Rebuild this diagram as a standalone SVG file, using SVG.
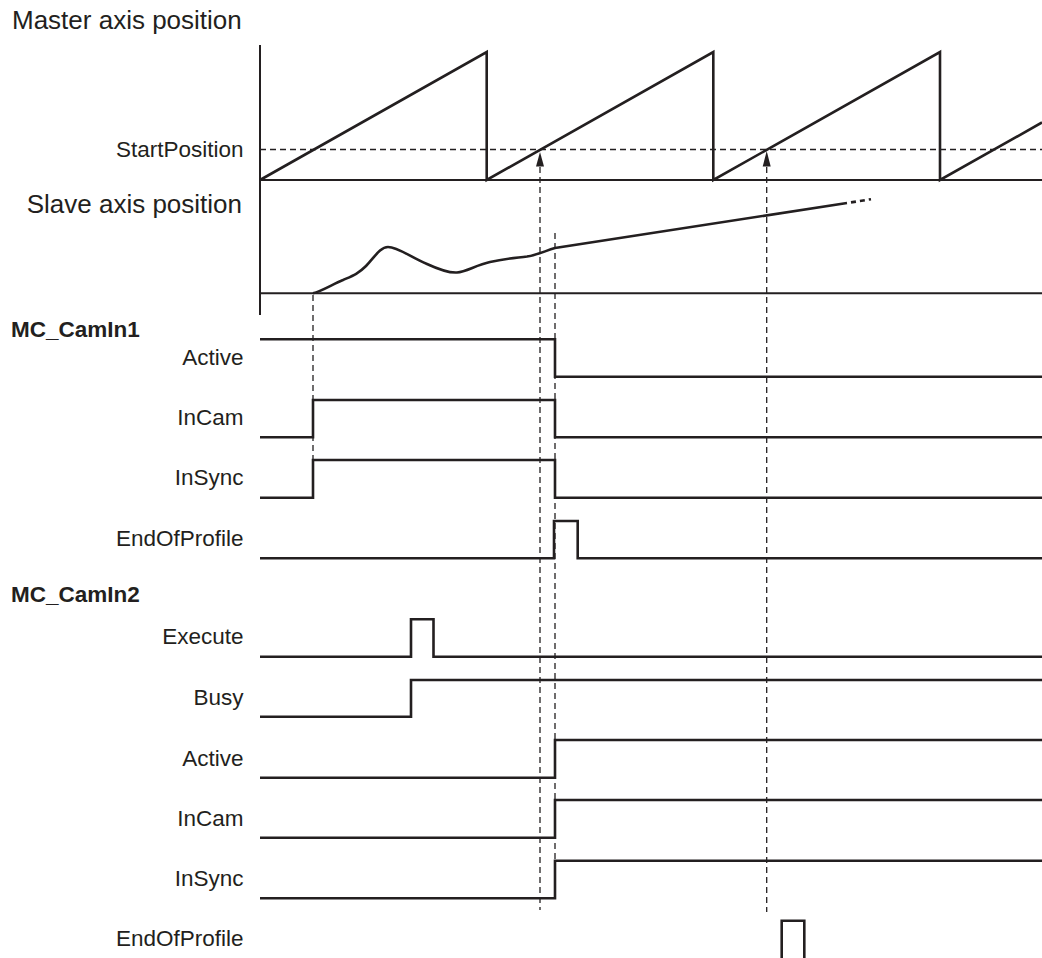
<svg xmlns="http://www.w3.org/2000/svg" width="1042" height="958" viewBox="0 0 1042 958">
<style>
text{font-family:"Liberation Sans",Arial,sans-serif;fill:#231f20}
.lbl{font-size:22.5px;text-anchor:end}
.ttl{font-size:26px}
.bold{font-size:22.5px;font-weight:bold}
.sig{fill:none;stroke:#231f20;stroke-width:2.6;stroke-linejoin:miter}
.ax{fill:none;stroke:#231f20;stroke-width:2}
.dash{fill:none;stroke:#231f20;stroke-width:1.3;stroke-dasharray:6 4}
.head{fill:#231f20;stroke:none}
</style>
<rect width="1042" height="958" fill="#ffffff"/>
<g id="labels">
<text class="ttl" x="12" y="29">Master axis position</text>
<text class="lbl" x="243.5" y="157">StartPosition</text>
<text class="ttl" x="242" y="213" text-anchor="end">Slave axis position</text>
<text class="bold" x="11" y="337">MC_CamIn1</text>
<text class="lbl" x="243.5" y="365">Active</text>
<text class="lbl" x="243.5" y="425">InCam</text>
<text class="lbl" x="243.5" y="485">InSync</text>
<text class="lbl" x="243.5" y="545.5">EndOfProfile</text>
<text class="bold" x="11" y="602">MC_CamIn2</text>
<text class="lbl" x="243.5" y="644">Execute</text>
<text class="lbl" x="243.5" y="704.5">Busy</text>
<text class="lbl" x="243.5" y="765.5">Active</text>
<text class="lbl" x="243.5" y="825.5">InCam</text>
<text class="lbl" x="243.5" y="885.5">InSync</text>
<text class="lbl" x="243.5" y="945.5">EndOfProfile</text>
</g>
<g id="axes">
<path class="ax" d="M260,45 L260,315"/>
<path class="ax" d="M260,180 L1042,180"/>
<path class="ax" d="M260,293.3 L1042,293.3"/>
</g>
<g id="master">
<path class="sig" d="M260,180 L486.7,52 L486.7,180 L713.3,52 L713.3,180 L940,52 L940,180 L1042,122.5"/>
</g>
<g id="slave">
<path class="sig" d="M313,293.3 C322,291 333,284 343,280 C352,276 358,274 366,266 C374,258 380,247 388,247 C398,247 410,257 427,264 C440,270 450,273 457,272.5 C466,272 476,265 490,262 C505,258.5 515,258 527,256.5 C537,255 545,251 555,248 L847,203"/>
<path class="sig" d="M851,202.4 L871,199.2" stroke-dasharray="5 4"/>
</g>
<g id="connectors">
<path class="dash" d="M260,149.5 L1042,149.5"/>
<path class="dash" d="M540,167 L540,910"/>
<polygon class="head" points="540,152 536,166.5 544,166.5"/>
<path class="dash" d="M766.7,167 L766.7,912"/>
<polygon class="head" points="766.7,151 762.7,166.5 770.7,166.5"/>
<path class="dash" d="M313,295 L313,460"/>
<path class="dash" d="M555,233 L555,860"/>
</g>
<g id="camin1">
<path class="sig" d="M260,339.3 L555,339.3 L555,376.7 L1042,376.7"/>
<path class="sig" d="M260,437.3 L313,437.3 L313,400 L555,400 L555,437.3 L1042,437.3"/>
<path class="sig" d="M260,497.7 L313,497.7 L313,460 L555,460 L555,497.7 L1042,497.7"/>
<path class="sig" d="M260,558.3 L554,558.3 L554,521 L577.7,521 L577.7,558.3 L1042,558.3"/>
</g>
<g id="camin2">
<path class="sig" d="M260,656.7 L411,656.7 L411,619.3 L433.5,619.3 L433.5,656.7 L1042,656.7"/>
<path class="sig" d="M260,716.7 L411,716.7 L411,680 L1042,680"/>
<path class="sig" d="M260,777.7 L555,777.7 L555,740 L1042,740"/>
<path class="sig" d="M260,837.7 L555,837.7 L555,800 L1042,800"/>
<path class="sig" d="M260,898.3 L555,898.3 L555,860.7 L1042,860.7"/>
<path class="sig" d="M781.7,960 L781.7,920.7 L804.3,920.7 L804.3,960"/>
</g>
</svg>
